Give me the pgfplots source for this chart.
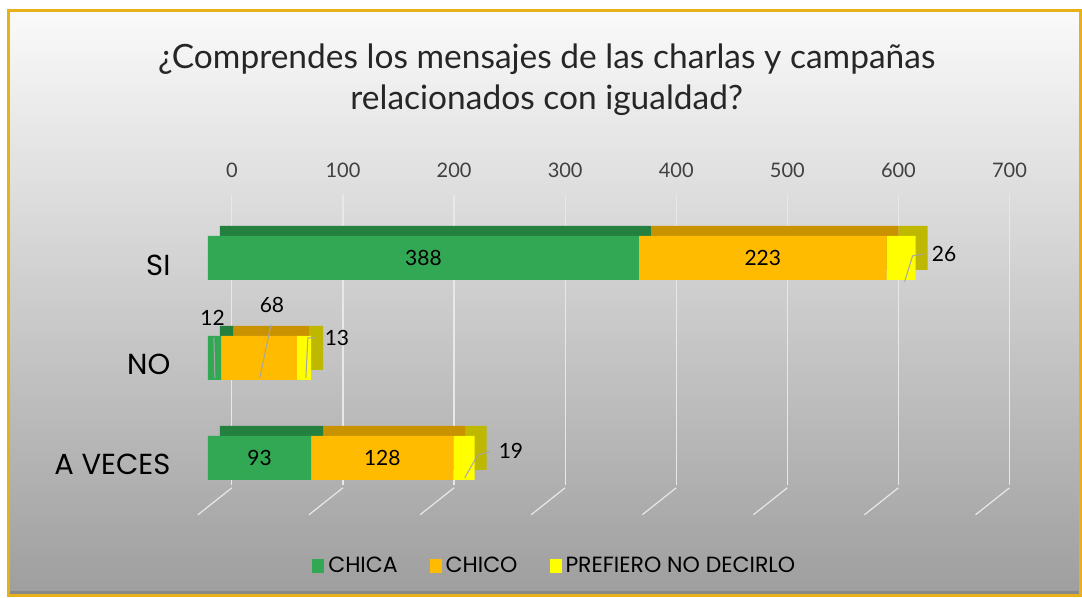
\documentclass[border=0pt]{standalone}
\usepackage{pgfplots}
\pgfplotsset{compat=1.18}
\usepackage{pgfplotstable}
\usepackage{fontspec}
\setmainfont{Lato}
\newfontfamily\pop{Poppins}
\definecolor{cA}{RGB}{51,168,84}
\definecolor{cAd}{RGB}{36,128,62}
\definecolor{cB}{RGB}{255,187,0}
\definecolor{cBd}{RGB}{200,146,0}
\definecolor{cC}{RGB}{255,255,0}
\definecolor{cCd}{RGB}{190,184,0}
\definecolor{gold}{RGB}{232,176,26}
\definecolor{gridc}{RGB}{232,232,232}

\pgfplotstableread{
y v dx dy
2 388 0 0
1 12 -2 40
0 93 0 0
}\tabA
\pgfplotstableread{
y v dx dy
2 223 0 0
1 68 13 53
0 128 0 0
}\tabB
\pgfplotstableread{
y v dx dy
2 26 43 4
1 13 33 20
0 19 47 7
}\tabC

\pgfplotsset{base/.style={
  xbar stacked, scale only axis, width=778pt, height=290pt,
  xmin=0, xmax=700, ymin=-0.27, ymax=2.63,
  at={(0pt,0pt)}, anchor=south west,
  bar width=44pt, clip=false,
}}

\begin{document}
\begin{tikzpicture}
% background and frame
\path[fill=white] (-208pt,-113pt) rectangle (874pt,485pt);
\shade[top color={rgb,255:red,250;green,250;blue,250}, bottom color={rgb,255:red,158;green,158;blue,158}]
  (-199pt,-111pt) rectangle (873pt,474pt);
\fill[black!55, opacity=0.5] (-199pt,-111pt) rectangle (873pt,-106pt);
\draw[gold, line width=3pt] (-199pt,-111pt) rectangle (873pt,474pt);
% title
\node[align=center, font=\fontsize{33.5}{41}\selectfont, text=black!85] at (339pt,405pt)
  {¿Comprendes los mensajes de las charlas y campañas\\relacionados con igualdad?};
% floor lines
\foreach \k in {0,...,7}{
  \draw[gridc, line width=1.2pt] ({24pt+111.14pt*\k},-3pt) -- ({-10pt+111.14pt*\k},-30pt);
}
% back layer (3D depth)
\begin{axis}[base,
  axis line style={draw=none}, tick style={draw=none},
  xtick={0,100,...,700}, xticklabel pos=upper,
  ytick={0,1,2}, yticklabels={A VECES,NO,SI},
  xmajorgrids, grid style={draw=gridc, line width=1.2pt, xshift=24pt},
  /pgf/number format/assume math mode=true,
  xticklabel style={xshift=24pt, yshift=14pt, font=\fontsize{20}{22}\selectfont, text=black!75},
  yticklabel style={anchor=east, xshift=-34pt, yshift=-7pt, font=\pop\fontsize{29}{32}\selectfont, text=black},
  every axis plot/.append style={xshift=12pt, yshift=10pt, draw=none},
]
\addplot[fill=cAd] table[x=v,y=y]{\tabA};
\addplot[fill=cBd] table[x=v,y=y]{\tabB};
\addplot[fill=cCd] table[x=v,y=y]{\tabC};
\end{axis}
% front layer
\begin{axis}[base, hide axis,
  point meta=explicit,
  /pgf/number format/assume math mode=true,
  nodes near coords,
  visualization depends on={\thisrow{dx}\as\dx},
  visualization depends on={\thisrow{dy}\as\dy},
  every node near coord/.append style={anchor=center, xshift=\dx pt, yshift=\dy pt,
     font=\fontsize{21}{24}\selectfont, text=black},
  legend style={at={(0.446,-0.279)}, anchor=center, draw=none, fill=none,
     legend columns=3, font=\pop\fontsize{22}{25}\selectfont,
     /tikz/every even column/.append style={column sep=30pt},
     /tikz/every odd column/.append style={column sep=2pt}},
  legend image code/.code={\fill[#1] (0pt,-7pt) rectangle (12pt,7pt);},
]
\addplot[fill=cA, draw=none] table[x=v,y=y,meta=v]{\tabA};
\addplot[fill=cB, draw=none] table[x=v,y=y,meta=v]{\tabB};
\addplot[fill=cC, draw=none] table[x=v,y=y,meta=v]{\tabC};
\legend{CHICA, CHICO, PREFIERO NO DECIRLO}
\end{axis}
% leader lines
\draw[gray!70, line width=1pt] (697pt,203pt) -- (705pt,229pt) -- (717pt,231pt);
\draw[gray!70, line width=1pt] (7pt,107pt) -- (6pt,147pt);
\draw[gray!70, line width=1pt] (52pt,107pt) -- (63pt,160pt);
\draw[gray!70, line width=1pt] (98pt,107pt) -- (100pt,147pt) -- (108pt,147pt);
\draw[gray!70, line width=1pt] (257pt,7pt) -- (270pt,30pt) -- (282pt,33pt);
\end{tikzpicture}
\end{document}
